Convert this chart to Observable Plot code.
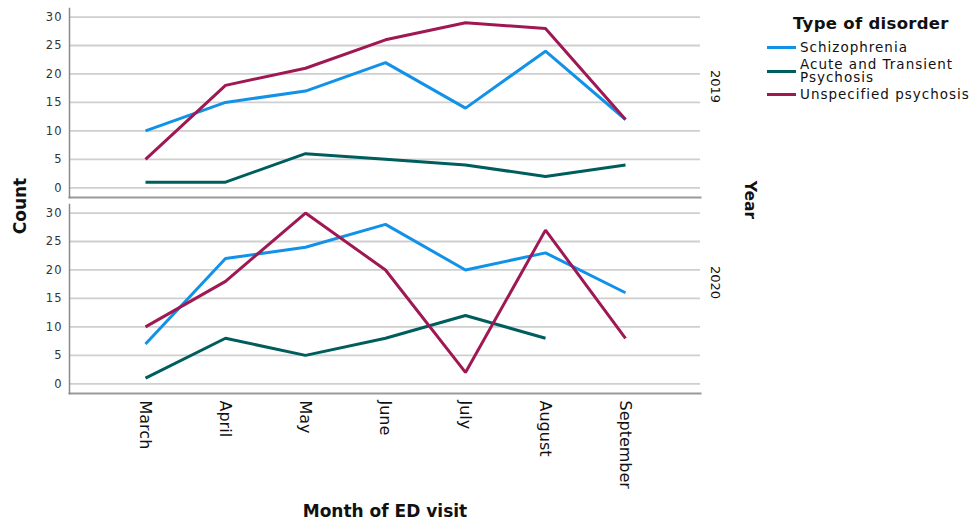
<!DOCTYPE html>
<html>
<head>
<meta charset="utf-8">
<script src="https://cdn.jsdelivr.net/npm/d3@7"></script>
<script src="https://cdn.jsdelivr.net/npm/@observablehq/plot@0.6"></script>
<style>
  html, body { margin: 0; padding: 0; background: #fff; }
  #wrap { position: relative; width: 973px; height: 522px; overflow: hidden; font-family: "DejaVu Sans", sans-serif; }
  #legend { position: absolute; left: 767px; top: 13.6px; }
  #legend .title { font-weight: bold; font-size: 16.5px; line-height: 20px; letter-spacing: 0.3px; margin-left: 26px; color: #111; margin-bottom: 7.3px; white-space: nowrap; }
  #legend .row { display: flex; align-items: center; margin-bottom: 3.2px; }
  #legend .sw { width: 29px; height: 3px; margin-right: 4px; flex: none; }
  #legend .lab { font-size: 13.5px; line-height: 13.5px; letter-spacing: 1px; width: 174px; color: #111; }
  g[aria-label="y-axis tick label"] text { letter-spacing: 1px; }
</style>
</head>
<body>
<div id="wrap"></div>
<script>
// ---- data ----
const months = ["March", "April", "May", "June", "July", "August", "September"];
const years = [2019, 2020];
const seriesNames = ["Schizophrenia", "Acute and Transient Psychosis", "Unspecified psychosis"];
const seriesColors = ["#1192e8", "#005d5d", "#9f1853"];
const yTicks = [0, 5, 10, 15, 20, 25, 30];

const schizophrenia2019 = [10, 15, 17, 22, 14, 24, 12];
const acute2019 = [1, 1, 6, 5, 4, 2, 4];
const unspecified2019 = [5, 18, 21, 26, 29, 28, 12];

const schizophrenia2020 = [7, 22, 24, 28, 20, 23, 16];
const acute2020 = [1, 8, 5, 8, 12, 8, null];
const unspecified2020 = [10, 18, 30, 20, 2, 27, 8];

const table = [
  [2019, seriesNames[0], schizophrenia2019],
  [2019, seriesNames[1], acute2019],
  [2019, seriesNames[2], unspecified2019],
  [2020, seriesNames[0], schizophrenia2020],
  [2020, seriesNames[1], acute2020],
  [2020, seriesNames[2], unspecified2020]
];
const rows = [];
for (const [year, series, vals] of table) {
  vals.forEach((v, i) => { if (v != null) rows.push({year, series, month: months[i], value: v}); });
}

const chart = Plot.plot({
  width: 973,
  height: 522,
  marginTop: 8,
  marginBottom: 128.5,
  marginLeft: 69,
  marginRight: 273,
  style: { fontFamily: "DejaVu Sans, sans-serif", background: "white", color: "#111" },
  x: { type: "point", domain: months, padding: 0.9, axis: null },
  y: { domain: [-1.7, 31.5], axis: null },
  fy: { domain: years, paddingInner: 0.0332, paddingOuter: 0, axis: null },
  color: { domain: seriesNames, range: seriesColors },
  marks: [
    Plot.gridY(yTicks, { stroke: "#cfcfcf", strokeOpacity: 1, strokeWidth: 1.8 }),
    Plot.frame({ anchor: "bottom", stroke: "#9a9a9a", strokeWidth: 2 }),
    Plot.frame({ anchor: "left", stroke: "#8a8a8a", strokeWidth: 1.5 }),
    Plot.axisY(yTicks, { anchor: "left", tickSize: 0, tickPadding: 7, fontSize: 11.5, fill: "#333", label: null }),
    Plot.axisX({ anchor: "bottom", tickSize: 0, tickPadding: 7, tickRotate: 90, fontSize: 16, fill: "#111", label: null }),
    Plot.line(rows, { x: "month", y: "value", fy: "year", z: "series", stroke: "series", strokeWidth: 3, strokeLinejoin: "miter", strokeLinecap: "butt" }),
    Plot.text(years, { fy: d => d, text: d => String(d), frameAnchor: "right", dx: 15, rotate: 90, fontSize: 13, fill: "#111" })
  ]
});

const wrap = document.getElementById("wrap");
wrap.appendChild(chart);

// axis titles
const svg = d3.select(chart);
svg.append("text").text("Count")
  .attr("transform", "translate(20,206) rotate(-90)")
  .attr("text-anchor", "middle").attr("dominant-baseline", "central")
  .attr("font-weight", "bold").attr("font-size", 17).attr("fill", "#111");
svg.append("text").text("Month of ED visit")
  .attr("x", 385).attr("y", 511)
  .attr("text-anchor", "middle").attr("dominant-baseline", "central")
  .attr("font-weight", "bold").attr("font-size", 17).attr("fill", "#111");
svg.append("text").text("Year")
  .attr("transform", "translate(750,200) rotate(90)")
  .attr("text-anchor", "middle").attr("dominant-baseline", "central")
  .attr("font-weight", "bold").attr("font-size", 15.5).attr("fill", "#111");

// legend
const legend = document.createElement("div");
legend.id = "legend";
const title = document.createElement("div");
title.className = "title";
title.textContent = "Type of disorder";
legend.appendChild(title);
seriesNames.forEach((name, i) => {
  const row = document.createElement("div");
  row.className = "row";
  const sw = document.createElement("div");
  sw.className = "sw";
  sw.style.background = seriesColors[i];
  const lab = document.createElement("div");
  lab.className = "lab";
  lab.textContent = name;
  row.appendChild(sw);
  row.appendChild(lab);
  legend.appendChild(row);
});
wrap.appendChild(legend);
</script>
</body>
</html>
